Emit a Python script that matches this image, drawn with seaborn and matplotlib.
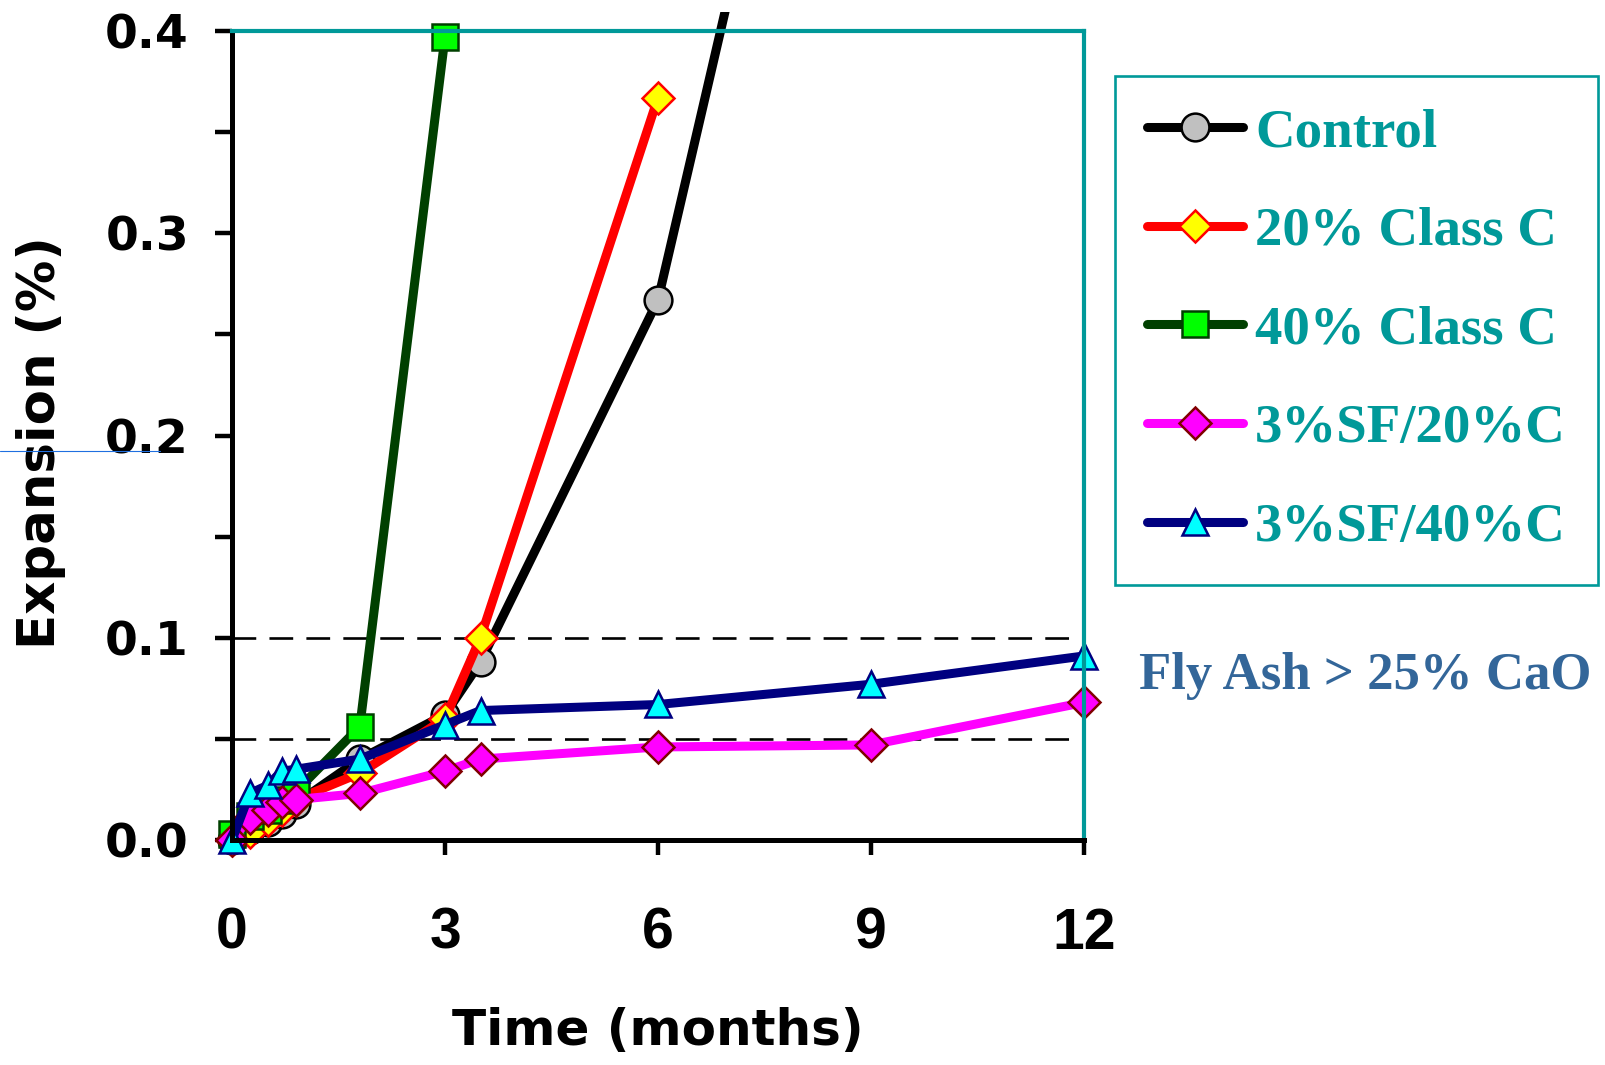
import numpy as np
import pandas as pd
import matplotlib
matplotlib.use("Agg")
import matplotlib.pyplot as plt
from matplotlib.patches import Rectangle
from matplotlib.lines import Line2D
import seaborn as sns

# Expansion (%) versus time (months) for each mixture
months_control = [0, 0.25, 0.5, 0.7, 0.9, 1.8, 3, 3.5, 6, 9]
exp_control = [0, 0.005, 0.009, 0.013, 0.018, 0.040, 0.062, 0.088, 0.267, 0.72]

months_20c = [0, 0.25, 0.5, 0.7, 0.9, 1.8, 3, 3.5, 6]
exp_20c = [0, 0.004, 0.010, 0.015, 0.020, 0.033, 0.060, 0.100, 0.367]

months_40c = [0, 0.25, 0.5, 0.7, 0.9, 1.8, 3]
exp_40c = [0.003, 0.012, 0.015, 0.020, 0.024, 0.056, 0.397]

months_sf20 = [0, 0.25, 0.5, 0.7, 0.9, 1.8, 3, 3.5, 6, 9, 12]
exp_sf20 = [0, 0.011, 0.015, 0.019, 0.020, 0.023, 0.034, 0.040, 0.046, 0.047, 0.068]

months_sf40 = [0, 0.25, 0.5, 0.7, 0.9, 1.8, 3, 3.5, 6, 9, 12]
exp_sf40 = [0, 0.023, 0.027, 0.034, 0.035, 0.040, 0.057, 0.064, 0.067, 0.077, 0.091]

labels = ["Control", "20% Class C", "40% Class C", "3%SF/20%C", "3%SF/40%C"]
limit_lines = [0.1, 0.05]
x_ticks = [0, 3, 6, 9, 12]

series = [
    (labels[0], months_control, exp_control, dict(color="black", marker="o", ms=20,
                                                  mfc="#C0C0C0", mec="black")),
    (labels[1], months_20c, exp_20c, dict(color="#FF0000", marker="D", ms=16.5,
                                          mfc="#FFFF00", mec="#FF0000")),
    (labels[2], months_40c, exp_40c, dict(color="#004000", marker="s", ms=19,
                                          mfc="#00FF00", mec="#004000")),
    (labels[3], months_sf20, exp_sf20, dict(color="#FF00FF", marker="D", ms=16.5,
                                            mfc="#FF00FF", mec="#800000")),
    (labels[4], months_sf40, exp_sf40, dict(color="#000080", marker="^", ms=19,
                                            mfc="#00FFFF", mec="#000080")),
]

sns.set_style("ticks")
plt.rcParams["font.family"] = ["DejaVu Sans"]
plt.rcParams["text.color"] = "black"
plt.rcParams["axes.labelcolor"] = "black"

W, H = 1606, 1065
fig = plt.figure(figsize=(W / 100, H / 100), dpi=100)
ax = fig.add_axes([232 / W, 1 - 840 / H, (1084 - 232) / W, (840 - 31) / H])

teal = "#009999"

# Clip region slightly larger than the axes so edge markers stay whole
clip_rect = Rectangle((-0.04, -0.04), 1.08, 1.0235 + 0.04, transform=ax.transAxes)

for name, xs, ys, style in series:
    df = pd.DataFrame({"Time": xs, "Expansion": ys})
    n_before = len(ax.lines)
    sns.lineplot(data=df, x="Time", y="Expansion", ax=ax, label=name,
                 linewidth=6.5, mew=1.8, errorbar=None, **style)
    for ln in ax.lines[n_before:]:
        ln.set_clip_path(clip_rect)
        ln.set_solid_capstyle("round")

# Threshold lines
for lvl in limit_lines:
    ax.hlines(lvl, 0, 12, colors="black", lw=1.9, linestyles=(0, (9, 5)), zorder=1)

ax.set_xlim(0, 12)
ax.set_ylim(0, 0.4)
ax.set_xticks(x_ticks)
ax.set_xticklabels([str(t) for t in x_ticks])
ax.set_yticks(np.arange(0, 0.41, 0.1))
ax.set_yticklabels([f"{v:.1f}" for v in np.arange(0, 0.41, 0.1)])
ax.set_yticks(np.arange(0.05, 0.4, 0.1), minor=True)

ax.tick_params(axis="y", which="both", direction="out", length=12, width=3.2,
               pad=19, labelsize=34, colors="black")
ax.tick_params(axis="x", which="major", direction="out", length=11, width=3.2,
               pad=37, labelsize=41, colors="black")
for t in ax.get_yticklabels():
    t.set_fontweight("bold")
    t.set_family("DejaVu Sans")
for t in ax.get_xticklabels():
    t.set_fontweight("bold")
    t.set_family("Liberation Sans")

for side in ["left", "bottom"]:
    ax.spines[side].set_color("black")
    ax.spines[side].set_linewidth(3.6)
for side in ["top", "right"]:
    ax.spines[side].set_visible(True)
    ax.spines[side].set_color(teal)
    ax.spines[side].set_linewidth(3.0)

ax.set_xlabel("Time (months)", fontsize=36, fontweight="bold", va="center", color="black")
ax.set_ylabel("Expansion (%)", fontsize=37, fontweight="bold", va="center", color="black")
ax.xaxis.set_label_coords(0.5, (840 - 1031) / 809)
ax.yaxis.set_label_coords((41 - 232) / 852, (840 - 443) / 809)

leg = ax.legend(loc="upper left", bbox_to_anchor=(1115 / W, 1 - 76 / H),
                bbox_transform=fig.transFigure, borderaxespad=0,
                prop={"family": "Liberation Serif", "weight": "bold", "size": 39.5},
                handlelength=1.75, handletextpad=0.22, labelspacing=0.88,
                borderpad=0.58, numpoints=1, fancybox=False, framealpha=1)
leg.get_frame().set_edgecolor(teal)
leg.get_frame().set_linewidth(1.9)
for txt in leg.get_texts():
    txt.set_color(teal)

fig.text(1139 / W, 1 - 689 / H, "Fly Ash > 25% CaO", ha="left", va="baseline",
         family="Liberation Serif", fontweight="bold", fontsize=38, color="#336699")

# thin guide stroke at the left margin
fig.add_artist(Line2D([0, 160 / W], [1 - 451 / H, 1 - 451 / H], color="#1f6fe0", lw=0.8))

fig.savefig("out.png", dpi=100)
